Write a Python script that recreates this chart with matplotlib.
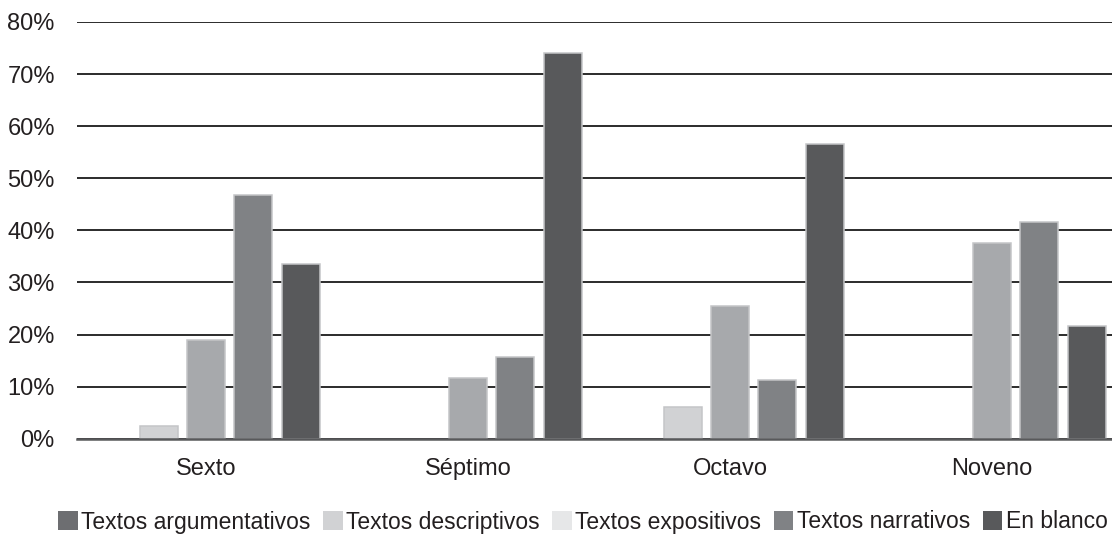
import matplotlib
matplotlib.use("Agg")
import matplotlib.pyplot as plt
from matplotlib.patches import Patch
import numpy as np

plt.rcParams["font.family"] = ["Liberation Sans", "DejaVu Sans"]

# ---- data (percent) ----
grados = ["Sexto", "Séptimo", "Octavo", "Noveno"]
series = ["Textos argumentativos", "Textos descriptivos", "Textos expositivos",
          "Textos narrativos", "En blanco"]
argumentativos = [0.0, 0.0, 0.0, 0.0]
descriptivos = [2.4, 0.0, 6.0, 0.0]
expositivos = [19.0, 11.6, 25.4, 37.6]
narrativos = [46.7, 15.6, 11.3, 41.6]
en_blanco = [33.5, 74.1, 56.5, 21.6]
yticks = [0, 10, 20, 30, 40, 50, 60, 70, 80]

bar_colors = ["#6d6e71", "#d1d2d4", "#a7a9ac", "#808285", "#58595b"]
legend_colors = ["#6d6e71", "#d1d2d4", "#e6e7e8", "#808285", "#58595b"]
text_col = "#231f20"

W, H = 1112, 538
fig = plt.figure(figsize=(W / 100, H / 100), dpi=100)
ax = fig.add_axes([77 / W, (H - 438.7) / H, (W - 77) / W, (438.7 - 22) / H])

x = np.arange(len(grados))
pitch, bw = 0.181, 0.145
for i, vals in enumerate([argumentativos, descriptivos, expositivos, narrativos, en_blanco]):
    vals = np.array(vals)
    keep = vals > 0  # a 0 % bar draws nothing in the original
    if keep.any():
        ax.bar(x[keep] + (i - 2) * pitch, vals[keep], bw, color=bar_colors[i],
               edgecolor="#c4c5c7", linewidth=1.1, zorder=2)

ax.set_ylim(0, 80)
ax.set_xlim(-0.4924, 3.458)
ax.set_yticks(yticks)
ax.set_yticklabels([f"{v}%" for v in yticks])
ax.set_xticks(x)
ax.set_xticklabels(grados)
ax.tick_params(axis="y", length=0, pad=16, labelsize=17, labelcolor=text_col)
ax.tick_params(axis="x", length=0, pad=14, labelsize=17, labelcolor=text_col)

ax.set_axisbelow(True)
ax.yaxis.grid(True, color="#2b2b2b", linewidth=1.4)
for s in ["top", "right", "left"]:
    ax.spines[s].set_visible(False)
ax.spines["bottom"].set_color("#58595b")
ax.spines["bottom"].set_linewidth(1.8)
ax.spines["bottom"].set_zorder(3)

handles = [Patch(facecolor=c, edgecolor="none") for c in legend_colors]
fig.legend(handles, series, loc="center", bbox_to_anchor=(583 / W, 1 - 522 / H),
           ncol=5, frameon=False, fontsize=16.5, labelcolor=text_col,
           handlelength=0.85, handleheight=0.85, handletextpad=0.15,
           columnspacing=0.55, borderpad=0, borderaxespad=0)

fig.savefig("out.png", dpi=100)
